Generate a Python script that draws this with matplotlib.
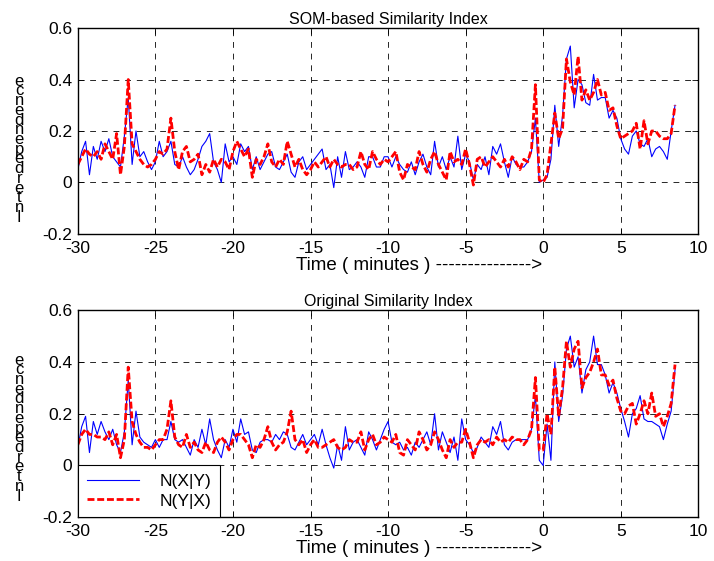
import numpy as np
import matplotlib
matplotlib.use("Agg")
import matplotlib.pyplot as plt

# time axis (minutes), sampled every 0.25 min
time_min = np.arange(155) * 0.25 - 30.0

# SOM-based similarity index
som_nxy = [0.05,0.12,0.16,0.03,0.14,0.09,0.16,0.12,0.17,0.10,0.08,0.06,0.18,0.33,0.07,0.20,0.10,0.12,0.08,0.05,
           0.08,0.16,0.10,0.12,0.16,0.07,0.06,0.10,0.06,0.03,0.05,0.09,0.14,0.16,0.19,0.08,0.05,0.00,0.15,0.08,
           0.10,0.07,0.15,0.12,0.14,0.05,0.10,0.05,0.08,0.11,0.12,0.06,0.05,0.08,0.11,0.04,0.02,0.08,0.10,0.05,
           0.07,0.09,0.11,0.13,0.05,0.07,-0.02,0.10,0.02,0.12,0.05,0.06,0.08,0.06,0.02,0.10,0.10,0.06,0.06,0.10,
           0.10,0.06,0.10,0.07,0.05,0.04,0.08,0.03,0.08,0.11,0.06,0.03,0.16,0.06,0.10,0.05,0.10,0.06,0.18,0.05,
           0.11,0.08,0.01,0.07,0.05,0.10,0.03,0.14,0.11,0.15,0.08,0.02,0.10,0.07,0.06,0.06,0.08,0.12,0.25,0.00,
           0.01,0.02,0.09,0.30,0.14,0.26,0.48,0.53,0.29,0.40,0.38,0.31,0.30,0.42,0.32,0.33,0.33,0.25,0.28,0.25,
           0.17,0.13,0.11,0.18,0.20,0.15,0.14,0.17,0.10,0.13,0.14,0.12,0.09,0.20,0.30]
som_nyx = [0.07,0.10,0.13,0.11,0.10,0.12,0.09,0.15,0.12,0.09,0.19,0.03,0.14,0.40,0.15,0.12,0.09,0.07,0.06,0.07,
           0.09,0.12,0.11,0.13,0.25,0.12,0.05,0.12,0.14,0.08,0.09,0.11,0.03,0.07,0.04,0.09,0.06,0.09,0.08,0.05,
           0.12,0.16,0.13,0.10,0.13,0.02,0.09,0.07,0.10,0.15,0.08,0.06,0.09,0.07,0.16,0.11,0.06,0.09,0.05,0.03,
           0.05,0.08,0.06,0.08,0.10,0.06,0.09,0.07,0.06,0.07,0.07,0.05,0.06,0.12,0.07,0.05,0.12,0.09,0.07,0.09,
           0.08,0.10,0.12,0.04,0.01,0.07,0.06,0.05,0.12,0.07,0.04,0.09,0.12,0.07,0.04,0.01,0.12,0.08,0.09,0.07,
           0.13,0.07,-0.01,0.09,0.10,0.06,0.08,0.10,0.08,0.06,0.09,0.06,0.10,0.08,0.05,0.09,0.08,0.13,0.38,0.01,
           0.00,0.03,0.15,0.27,0.17,0.21,0.48,0.39,0.34,0.49,0.32,0.36,0.32,0.35,0.40,0.34,0.35,0.28,0.29,0.22,
           0.17,0.18,0.19,0.20,0.23,0.13,0.24,0.15,0.20,0.20,0.18,0.17,0.17,0.19,0.30]

# Original similarity index
orig_nxy = [0.07,0.15,0.19,0.05,0.17,0.12,0.17,0.13,0.10,0.14,0.08,0.05,0.13,0.33,0.08,0.21,0.11,0.09,0.08,0.07,
            0.10,0.07,0.10,0.10,0.17,0.10,0.09,0.10,0.07,0.04,0.10,0.07,0.14,0.08,0.18,0.10,0.06,0.03,0.10,0.07,
            0.14,0.09,0.18,0.12,0.13,0.06,0.05,0.09,0.10,0.10,0.09,0.12,0.10,0.13,0.12,0.07,0.06,0.09,0.12,0.08,
            0.10,0.12,0.08,0.14,0.08,0.03,-0.01,0.08,0.02,0.15,0.06,0.09,0.10,0.07,0.04,0.13,0.10,0.06,0.10,0.14,
            0.17,0.09,0.08,0.09,0.06,0.07,0.04,0.09,0.07,0.10,0.13,0.08,0.20,0.06,0.13,0.09,0.05,0.11,0.02,0.18,
            0.10,0.08,0.05,0.07,0.11,0.09,0.07,0.15,0.12,0.17,0.08,0.06,0.09,0.10,0.10,0.10,0.10,0.14,0.27,0.02,
            0.00,0.16,0.02,0.40,0.17,0.27,0.45,0.50,0.38,0.42,0.28,0.37,0.40,0.50,0.39,0.39,0.35,0.28,0.32,0.28,
            0.22,0.17,0.11,0.20,0.22,0.27,0.18,0.17,0.17,0.16,0.15,0.10,0.16,0.21,0.37]
orig_nyx = [0.08,0.12,0.14,0.12,0.12,0.11,0.11,0.10,0.13,0.08,0.12,0.03,0.10,0.38,0.17,0.12,0.09,0.07,0.07,0.06,
            0.08,0.10,0.10,0.14,0.25,0.11,0.08,0.07,0.12,0.07,0.09,0.06,0.05,0.09,0.06,0.05,0.09,0.11,0.09,0.06,
            0.10,0.12,0.12,0.10,0.08,0.03,0.08,0.07,0.10,0.15,0.09,0.06,0.08,0.09,0.13,0.21,0.10,0.08,0.10,0.05,
            0.08,0.10,0.07,0.07,0.08,0.09,0.10,0.07,0.06,0.07,0.10,0.09,0.09,0.13,0.06,0.10,0.12,0.08,0.09,0.11,
            0.10,0.09,0.12,0.05,0.04,0.10,0.08,0.06,0.13,0.10,0.06,0.08,0.13,0.10,0.06,0.03,0.10,0.07,0.09,0.09,
            0.14,0.09,0.03,0.08,0.10,0.09,0.10,0.08,0.11,0.09,0.10,0.09,0.11,0.10,0.10,0.08,0.10,0.14,0.34,0.06,
            0.06,0.20,0.12,0.38,0.19,0.30,0.48,0.38,0.45,0.48,0.30,0.34,0.36,0.40,0.45,0.35,0.35,0.31,0.33,0.26,
            0.21,0.20,0.23,0.24,0.16,0.20,0.25,0.20,0.28,0.19,0.20,0.15,0.19,0.24,0.39]

titles = ["SOM-based Similarity Index", "Original Similarity Index"]
series = [(som_nxy, som_nyx), (orig_nxy, orig_nyx)]
legend_labels = ["N(X|Y)", "N(Y|X)"]
xlabel_text = "Time ( minutes ) --------------->"
ylabel_text = "Interdependence"
xticks = [-30, -25, -20, -15, -10, -5, 0, 5, 10]
yticks = [-0.2, 0, 0.2, 0.4, 0.6]
ytick_labels = ["-0.2", "0", "0.2", "0.4", "0.6"]

plt.rcParams['font.family'] = ['Liberation Sans', 'DejaVu Sans']
plt.rcParams['axes.unicode_minus'] = False
fig = plt.figure(figsize=(7.14, 5.61), dpi=100)

ax_rects = [[0.109, 0.583, 0.869, 0.367], [0.109, 0.078, 0.869, 0.369]]
xlabel_y = [0.512, 0.008]
ylabel_y = [0.734, 0.237]

for k in range(2):
    ax = fig.add_axes(ax_rects[k])
    b, r = series[k]
    ax.plot(time_min, b, color='#0000ff', lw=0.8, label=legend_labels[0])
    ax.plot(time_min, r, color='#ff0000', lw=2.0, dashes=(2.5, 1.0), label=legend_labels[1])
    ax.set_xlim(-30, 10)
    ax.set_ylim(-0.2, 0.6)
    ax.set_xticks(xticks)
    ax.set_yticks(yticks)
    ax.set_yticklabels(ytick_labels)
    ax.tick_params(direction='in', top=True, right=True, length=4, width=0.6,
                   labelsize=12.5)
    ax.tick_params(axis='x', pad=5)
    ax.tick_params(axis='y', pad=4)
    ax.grid(True, color='0.15', lw=0.7, dashes=(6, 6))
    for s in ax.spines.values():
        s.set_linewidth(1.0)
    ax.set_title(titles[k], fontsize=11.5, pad=3)
    fig.text(0.415, xlabel_y[k], xlabel_text, fontsize=13.5, ha='left', va='bottom')
    fig.text(0.027, ylabel_y[k], "\n".join(ylabel_text[::-1]), fontsize=12,
             ha='center', va='center', linespacing=0.56)
    if k == 1:
        leg = ax.legend(loc='lower left', borderaxespad=0, fancybox=False,
                        edgecolor='k', framealpha=1, fontsize=12.5, handlelength=3.0,
                        handletextpad=1.2, borderpad=0.5, labelspacing=0.25)
        leg.get_frame().set_linewidth(0.8)

fig.savefig("out.png", dpi=100)
